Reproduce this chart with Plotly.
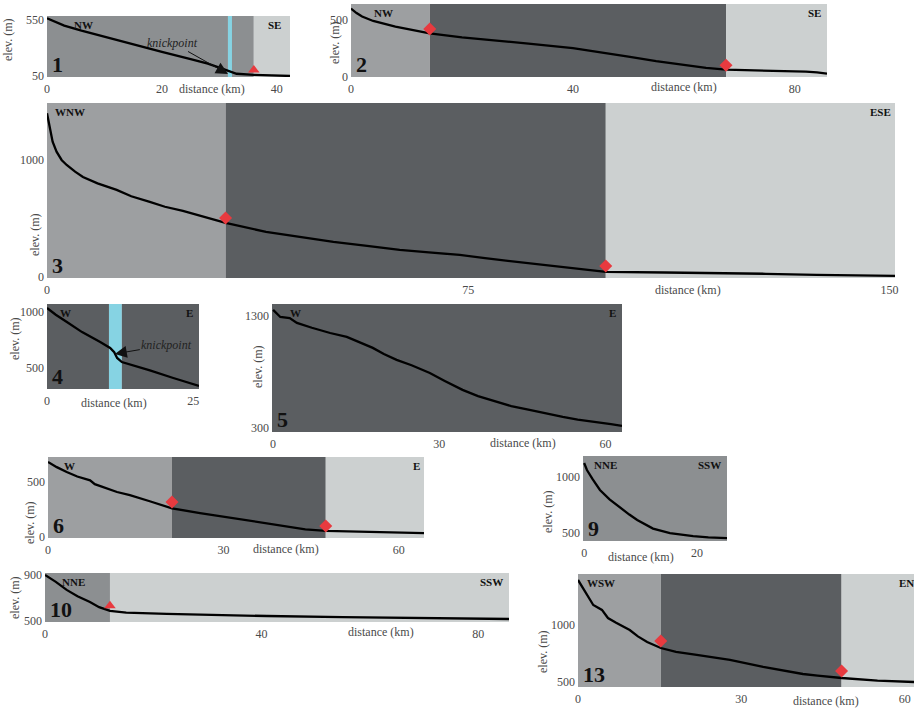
import plotly.graph_objects as go

W, H = 914, 708

# ---------------- data (distance km, elevation m) ----------------
p1_dist = [0, 3, 6, 10, 15, 20, 25, 28, 30, 31.5, 33, 36, 40, 42.3]
p1_elev = [565, 500, 455, 400, 330, 265, 200, 160, 125, 95, 70, 60, 55, 50]
p1_zone_km = [0, 31.5, 32.2, 36, 42.3]
p1_zone_kind = ["mid_dark", "knick", "mid_dark", "light"]
p1_mark_km = [36]
p1_mark_elev = [104]
p1_xticks = [0, 20, 40]
p1_yticks = [50, 550]
p1_dirs = ["NW", "SE"]

p2_dist = [0, 1, 2, 4, 8, 14.2, 20, 26, 32, 40, 45, 50, 55, 60, 64, 67.6, 72, 78, 82, 84, 85.8]
p2_elev = [600, 560, 530, 490, 440, 380, 345, 320, 290, 250, 215, 175, 135, 100, 75, 60, 55, 50, 42, 35, 25]
p2_zone_km = [0, 14.2, 67.6, 85.8]
p2_zone_kind = ["mid", "dark", "light"]
p2_mark_km = [14.2, 67.6]
p2_mark_elev = [420, 98]
p2_xticks = [0, 40, 80]
p2_yticks = [0, 500]
p2_dirs = ["NW", "SE"]

p3_dist = [0, 0.5, 1.0, 1.7, 2.6, 3.5, 5, 6.4, 9, 12.4, 15, 18.3, 21, 24.2, 28, 31.8, 39, 45, 51, 57, 62.8, 68, 73.5, 78, 83.6, 90, 95, 99.5, 110, 119, 128, 137, 145, 151]
p3_elev = [1400, 1274, 1156, 1071, 1000, 957, 900, 855, 800, 744, 690, 641, 600, 564, 515, 462, 385, 340, 300, 265, 231, 210, 188, 160, 128, 95, 65, 43, 38, 34, 27, 17, 12, 9]
p3_zone_km = [0, 31.8, 99.5, 151]
p3_zone_kind = ["mid", "dark", "light"]
p3_mark_km = [31.8, 99.5]
p3_mark_elev = [504, 94]
p3_xticks = [0, 75, 150]
p3_yticks = [0, 1000]
p3_dirs = ["WNW", "ESE"]

p4_dist = [0, 1.5, 3.4, 6, 9.1, 10.8, 11.5, 12, 12.8, 15, 17.6, 21.6, 24, 26]
p4_elev = [1035, 975, 910, 820, 732, 678, 640, 589, 553, 520, 478, 410, 372, 339]
p4_zone_km = [0, 10.6, 12.8, 26]
p4_zone_kind = ["dark", "knick", "dark"]
p4_mark_km = []
p4_mark_elev = []
p4_xticks = [0, 25]
p4_yticks = [500, 1000]
p4_dirs = ["W", "E"]

p5_dist = [0, 1.3, 3, 4.3, 7, 10.3, 13.3, 15.5, 18, 20, 22.3, 25, 28.3, 31, 34.2, 37, 40.3, 43, 46.3, 49, 52.3, 55, 58.4, 61, 63]
p5_elev = [1354, 1291, 1282, 1238, 1195, 1148, 1113, 1065, 1015, 960, 908, 860, 791, 720, 640, 585, 533, 495, 461, 430, 398, 375, 354, 334, 318]
p5_zone_km = [-0.2, 63]
p5_zone_kind = ["dark"]
p5_mark_km = []
p5_mark_elev = []
p5_xticks = [0, 30, 60]
p5_yticks = [300, 1300]
p5_dirs = ["W", "E"]

p6_dist = [0, 1.5, 3.2, 5, 7.2, 8, 11.8, 14, 17.4, 21.2, 26, 31.6, 36, 40.2, 44, 47.5, 54.5, 64.3]
p6_elev = [682, 635, 591, 550, 515, 480, 409, 380, 325, 261, 218, 173, 135, 100, 70, 55, 45, 36]
p6_zone_km = [0, 21.2, 47.5, 64.3]
p6_zone_kind = ["mid", "dark", "light"]
p6_mark_km = [21.2, 47.5]
p6_mark_elev = [318, 100]
p6_xticks = [0, 30, 60]
p6_yticks = [0, 500]
p6_dirs = ["W", "E"]

p9_dist = [0, 0.5, 1.5, 2.8, 4.5, 6.4, 8, 9.4, 12.2, 15.2, 19.3, 22, 25.3]
p9_elev = [1125, 1062, 980, 884, 800, 723, 665, 616, 540, 500, 473, 462, 455]
p9_zone_km = [-0.2, 25.3]
p9_zone_kind = ["mid_dark"]
p9_mark_km = []
p9_mark_elev = []
p9_xticks = [0, 20]
p9_yticks = [500, 1000]
p9_dirs = ["NNE", "SSW"]

p10_dist = [0, 2, 4, 6, 8.3, 10, 12, 15, 22.5, 30, 41, 55, 65.6, 75, 85.7]
p10_elev = [900, 840, 770, 715, 665, 620, 587, 572, 561, 552, 543, 534, 526, 521, 517]
p10_zone_km = [0, 12, 85.7]
p10_zone_kind = ["mid_dark", "light"]
p10_mark_km = [12]
p10_mark_elev = [632]
p10_xticks = [0, 40, 80]
p10_yticks = [500, 900]
p10_dirs = ["NNE", "SSW"]

p13_dist = [0, 1, 1.7, 2.8, 4.4, 5.5, 7, 9.5, 11, 12.7, 15.2, 18, 21.8, 27.9, 34, 41.3, 44, 48.4, 55, 61.7]
p13_elev = [1395, 1320, 1263, 1175, 1132, 1061, 1020, 956, 900, 851, 798, 765, 737, 693, 632, 570, 555, 535, 512, 500]
p13_zone_km = [0, 15.2, 48.4, 61.7]
p13_zone_kind = ["mid", "dark", "light"]
p13_mark_km = [15.2, 48.4]
p13_mark_elev = [860, 597]
p13_xticks = [0, 30, 60]
p13_yticks = [500, 1000]
p13_dirs = ["WSW", "ENE"]

panel_ids = ["1", "2", "3", "4", "5", "6", "9", "10", "13"]

# ---------------- styling / layout (pixels) ----------------
COLORS = {"dark": "#5b5e61", "mid": "#9d9fa1", "mid_dark": "#8c8f91",
          "light": "#ccd0d0", "knick": "#86d3e3"}
RED = "#e83a3f"
SERIF = "Liberation Serif"
GRAY_TXT = "#4a4a4a"

panels = [
    dict(d=p1_dist, e=p1_elev, zk=p1_zone_km, zt=p1_zone_kind, mk=p1_mark_km, me=p1_mark_elev,
         xt=p1_xticks, yt=p1_yticks, dirs=p1_dirs, box=(47, 290, 16, 77), xr=[0, 42.3], yr=[41, 586],
         sym="triangle-up", lo=25, ro=7, ylab=(8, 40), dlab=(212, 89)),
    dict(d=p2_dist, e=p2_elev, zk=p2_zone_km, zt=p2_zone_kind, mk=p2_mark_km, me=p2_mark_elev,
         xt=p2_xticks, yt=p2_yticks, dirs=p2_dirs, box=(351, 827, 4, 77), xr=[0, 85.8], yr=[-5, 640],
         sym="diamond", lo=21, ro=4, ylab=(335, 43), dlab=(684, 87)),
    dict(d=p3_dist, e=p3_elev, zk=p3_zone_km, zt=p3_zone_kind, mk=p3_mark_km, me=p3_mark_elev,
         xt=p3_xticks, yt=p3_yticks, dirs=p3_dirs, box=(47, 895, 103, 278), xr=[0, 151], yr=[-9, 1487],
         sym="diamond", lo=6, ro=2, ylab=(35, 235), dlab=(688, 290)),
    dict(d=p4_dist, e=p4_elev, zk=p4_zone_km, zt=p4_zone_kind, mk=p4_mark_km, me=p4_mark_elev,
         xt=p4_xticks, yt=p4_yticks, dirs=p4_dirs, box=(47, 199, 304, 389), xr=[0, 26], yr=[312, 1071],
         sym="diamond", lo=11, ro=4, ylab=(15, 338), dlab=(114, 403)),
    dict(d=p5_dist, e=p5_elev, zk=p5_zone_km, zt=p5_zone_kind, mk=p5_mark_km, me=p5_mark_elev,
         xt=p5_xticks, yt=p5_yticks, dirs=p5_dirs, box=(272, 622, 304, 432), xr=[-0.2, 63], yr=[264, 1407],
         sym="diamond", lo=16, ro=4, ylab=(258, 367), dlab=(523, 443)),
    dict(d=p6_dist, e=p6_elev, zk=p6_zone_km, zt=p6_zone_kind, mk=p6_mark_km, me=p6_mark_elev,
         xt=p6_xticks, yt=p6_yticks, dirs=p6_dirs, box=(48, 424, 457, 538), xr=[0, 64.3], yr=[-9, 727],
         sym="diamond", lo=14, ro=2, ylab=(30, 522), dlab=(286, 549)),
    dict(d=p9_dist, e=p9_elev, zk=p9_zone_km, zt=p9_zone_kind, mk=p9_mark_km, me=p9_mark_elev,
         xt=p9_xticks, yt=p9_yticks, dirs=p9_dirs, box=(583, 727, 456, 541), xr=[-0.2, 25.3], yr=[429, 1187],
         sym="diamond", lo=9, ro=4, ylab=(548, 512), dlab=(641, 557)),
    dict(d=p10_dist, e=p10_elev, zk=p10_zone_km, zt=p10_zone_kind, mk=p10_mark_km, me=p10_mark_elev,
         xt=p10_xticks, yt=p10_yticks, dirs=p10_dirs, box=(45, 509, 573, 622), xr=[0, 85.7], yr=[491, 917],
         sym="triangle-up", lo=15, ro=4, ylab=(15, 597), dlab=(381, 632)),
    dict(d=p13_dist, e=p13_elev, zk=p13_zone_km, zt=p13_zone_kind, mk=p13_mark_km, me=p13_mark_elev,
         xt=p13_xticks, yt=p13_yticks, dirs=p13_dirs, box=(578, 914, 574, 687), xr=[0, 61.7], yr=[456, 1447],
         sym="diamond", lo=7, ro=None, ylab=(543, 652), dlab=(826, 701)),
]

fig = go.Figure()
shapes, anns = [], []
layout_axes = {}

for i, (pid, P) in enumerate(zip(panel_ids, panels), start=1):
    sfx = "" if i == 1 else str(i)
    xa, ya = "x" + sfx, "y" + sfx
    l, r, t, b = P["box"]
    layout_axes["xaxis" + sfx] = dict(
        domain=[l / W, r / W], range=P["xr"], anchor=ya, tickvals=P["xt"],
        ticktext=[str(v) for v in P["xt"]], ticks="", showgrid=False, zeroline=False,
        showline=False, automargin=False,
        tickfont=dict(family=SERIF, size=12, color=GRAY_TXT), ticklabelstandoff=3)
    layout_axes["yaxis" + sfx] = dict(
        domain=[1 - b / H, 1 - t / H], range=P["yr"], anchor=xa, tickvals=P["yt"],
        ticktext=[str(v) for v in P["yt"]], ticks="", showgrid=False, zeroline=False,
        showline=False, automargin=False,
        tickfont=dict(family=SERIF, size=12, color=GRAY_TXT), ticklabelstandoff=2)

    for k, kind in enumerate(P["zt"]):
        shapes.append(dict(type="rect", xref=xa, yref=ya + " domain",
                           x0=P["zk"][k], x1=P["zk"][k + 1], y0=0, y1=1,
                           fillcolor=COLORS[kind], line_width=0, layer="below"))

    fig.add_trace(go.Scatter(x=P["d"], y=P["e"], xaxis=xa, yaxis=ya, mode="lines",
                             line=dict(color="black", width=2.3), hoverinfo="skip"))
    if P["mk"]:
        fig.add_trace(go.Scatter(x=P["mk"], y=P["me"], xaxis=xa, yaxis=ya, mode="markers",
                                 marker=dict(symbol=P["sym"], color=RED, size=10, line_width=0),
                                 hoverinfo="skip"))

    # panel number
    anns.append(dict(text="<b>%s</b>" % pid, xref=xa + " domain", yref=ya + " domain", x=0, y=0,
                     xanchor="left", yanchor="bottom", xshift=3, yshift=-2, showarrow=False,
                     font=dict(family=SERIF, size=22, color="#111")))
    # direction labels
    anns.append(dict(text="<b>%s</b>" % P["dirs"][0], xref=xa + " domain", yref=ya + " domain",
                     x=0, y=1, xanchor="left", yanchor="top", xshift=P["lo"], yshift=-1,
                     showarrow=False, font=dict(family=SERIF, size=11, color="#111")))
    if P["ro"] is not None:
        anns.append(dict(text="<b>%s</b>" % P["dirs"][1], xref=xa + " domain", yref=ya + " domain",
                         x=1, y=1, xanchor="right", yanchor="top", xshift=-P["ro"], yshift=-1,
                         showarrow=False, font=dict(family=SERIF, size=11, color="#111")))
    else:
        anns.append(dict(text="<b>%s</b>" % P["dirs"][1], xref="paper", yref=ya + " domain",
                         x=897 / W, y=1, xanchor="left", yanchor="top", yshift=-1,
                         showarrow=False, font=dict(family=SERIF, size=11, color="#111")))
    # axis titles
    anns.append(dict(text="elev. (m)", xref="paper", yref="paper", x=P["ylab"][0] / W,
                     y=1 - P["ylab"][1] / H, textangle=-90, showarrow=False,
                     xanchor="center", yanchor="middle",
                     font=dict(family=SERIF, size=12, color=GRAY_TXT)))
    anns.append(dict(text="distance (km)", xref="paper", yref="paper", x=P["dlab"][0] / W,
                     y=1 - P["dlab"][1] / H, showarrow=False, xanchor="center", yanchor="middle",
                     font=dict(family=SERIF, size=12, color=GRAY_TXT)))

# knickpoint callouts
anns.append(dict(text="<i>knickpoint</i>", xref="x", yref="y", x=31.5, y=68, ax=-55, ay=-31,
                 showarrow=True, arrowhead=2, arrowsize=2.4, arrowwidth=1, arrowcolor="#111",
                 font=dict(family=SERIF, size=12, color="#222")))
anns.append(dict(text="<i>knickpoint</i>", xref="x4", yref="y4", x=11.6, y=625, ax=52, ay=-9,
                 showarrow=True, arrowhead=2, arrowsize=2.4, arrowwidth=1, arrowcolor="#111",
                 font=dict(family=SERIF, size=12, color="#222")))

fig.update_layout(width=W, height=H, margin=dict(l=0, r=0, t=0, b=0, autoexpand=False),
                  paper_bgcolor="white", plot_bgcolor="white", showlegend=False,
                  hovermode=False, shapes=shapes, annotations=anns, **layout_axes)

fig.write_html("out.html", config={"displayModeBar": False},
               post_script="document.body.style.margin='0';")
